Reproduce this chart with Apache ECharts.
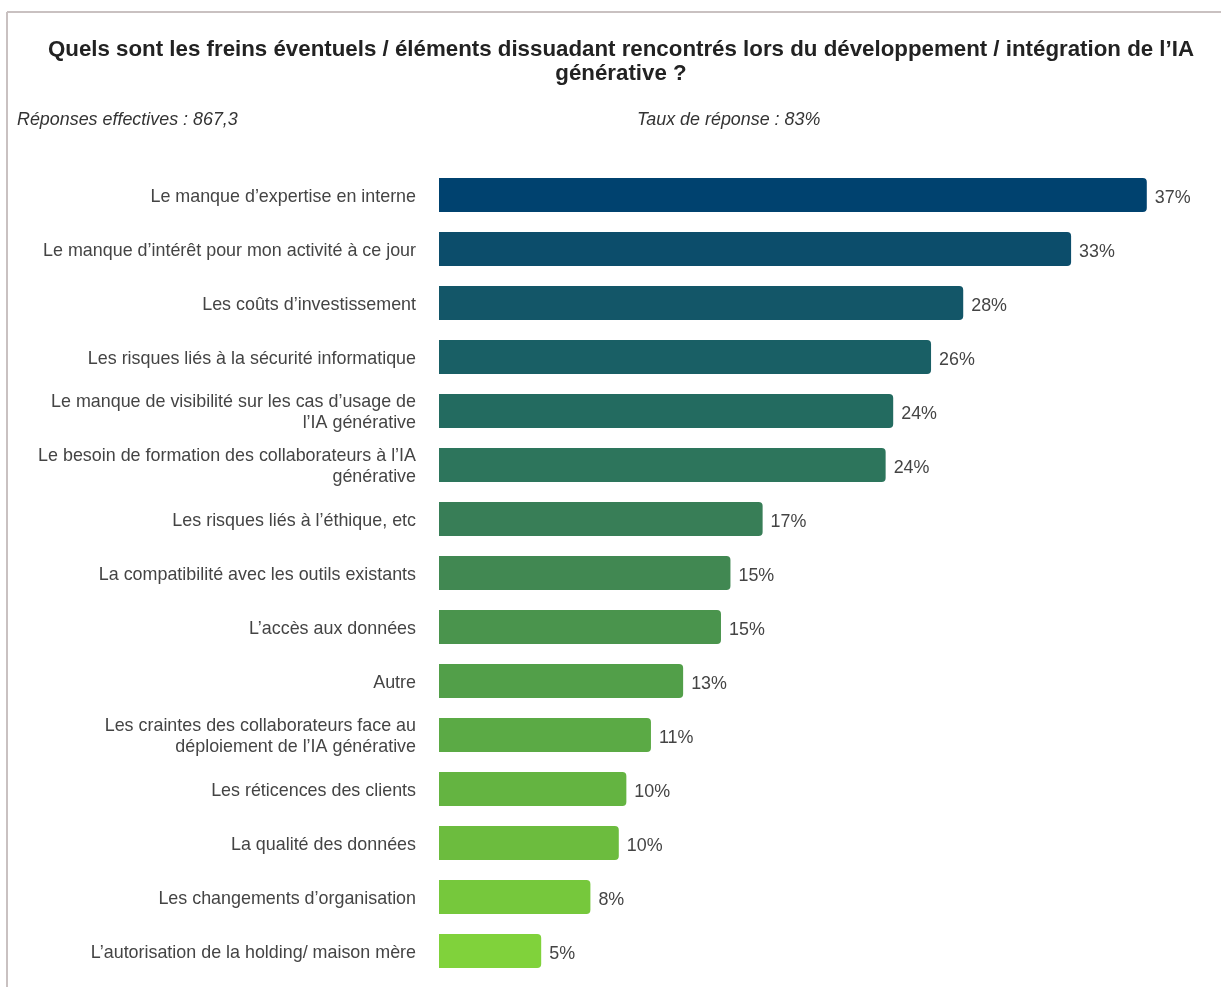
<!DOCTYPE html>
<html>
<head>
<meta charset="utf-8">
<script src="https://cdn.jsdelivr.net/npm/echarts@6/dist/echarts.min.js"></script>
<style>
html,body{margin:0;padding:0;background:#fff;}
#chart{width:1221px;height:987px;}
</style>
</head>
<body>
<div id="chart"></div>
<script>
const titleText = 'Quels sont les freins éventuels / éléments dissuadant rencontrés lors du développement / intégration de l’IA\ngénérative ?';
const subLeft = 'Réponses effectives : 867,3';
const subRight = 'Taux de réponse : 83%';

const categories = [
  'Le manque d’expertise en interne',
  'Le manque d’intérêt pour mon activité à ce jour',
  'Les coûts d’investissement',
  'Les risques liés à la sécurité informatique',
  'Le manque de visibilité sur les cas d’usage de\nl’IA générative',
  'Le besoin de formation des collaborateurs à l’IA\ngénérative',
  'Les risques liés à l’éthique, etc',
  'La compatibilité avec les outils existants',
  'L’accès aux données',
  'Autre',
  'Les craintes des collaborateurs face au\ndéploiement de l’IA générative',
  'Les réticences des clients',
  'La qualité des données',
  'Les changements d’organisation',
  'L’autorisation de la holding/ maison mère'
];
const values = [37.4, 33.4, 27.7, 26.0, 24.0, 23.6, 17.1, 15.4, 14.9, 12.9, 11.2, 9.9, 9.5, 8.0, 5.4];
const barColors = ['#00426F','#0C4D6B','#135668','#195F65','#236B60','#2D755C','#387E57','#418852','#4A944D','#529F49','#5BAA45','#64B441','#6CBC3E','#76C83C','#80D23B'];

const FONT = '"Liberation Sans", Arial, sans-serif';
const chart = echarts.init(document.getElementById('chart'));
chart.setOption({
  animation: false,
  backgroundColor: '#fff',
  textStyle: {fontFamily: FONT},
  graphic: [
    {type: 'line', shape: {x1: 7, y1: 12, x2: 1221, y2: 12}, style: {stroke: '#c9c1c1', lineWidth: 2}},
    {type: 'line', shape: {x1: 7, y1: 12, x2: 7, y2: 987}, style: {stroke: '#c9c1c1', lineWidth: 2}},
    {type: 'text', left: 17, top: 111, style: {text: subLeft, fontSize: 17.9, fontStyle: 'italic', fill: '#333', fontFamily: FONT}},
    {type: 'text', left: 637, top: 111, style: {text: subRight, fontSize: 17.9, fontStyle: 'italic', fill: '#333', fontFamily: FONT}}
  ],
  title: {
    text: titleText,
    left: 616,
    top: 33,
    textAlign: 'center',
    textStyle: {fontSize: 22.3, fontWeight: 'bold', color: '#222', lineHeight: 24, fontFamily: FONT}
  },
  grid: {left: 439, right: 25, top: 168, bottom: 9, containLabel: false},
  xAxis: {type: 'value', min: 0, max: 40, show: false},
  yAxis: {
    type: 'category',
    data: categories,
    inverse: true,
    axisLine: {show: false},
    axisTick: {show: false},
    axisLabel: {
      fontSize: 17.9, color: '#444', margin: 23, align: 'right',
      formatter: v => v.split('\n').map(s => '{a|' + s + '}').join('\n'),
      rich: {a: {fontSize: 17.9, color: '#444', lineHeight: 21, padding: [4, 0, 0, 0], fontFamily: FONT}}
    }
  },
  series: [{
    type: 'bar',
    data: values.map((v, i) => ({value: v, itemStyle: {color: barColors[i]}})),
    barWidth: 34,
    itemStyle: {borderRadius: [0, 4, 4, 0]},
    label: {
      show: true,
      position: 'right',
      distance: 8,
      offset: [0, 3],
      fontSize: 17.9,
      color: '#444',
      formatter: p => Math.round(p.value) + '%'
    }
  }]
});
</script>
</body>
</html>
